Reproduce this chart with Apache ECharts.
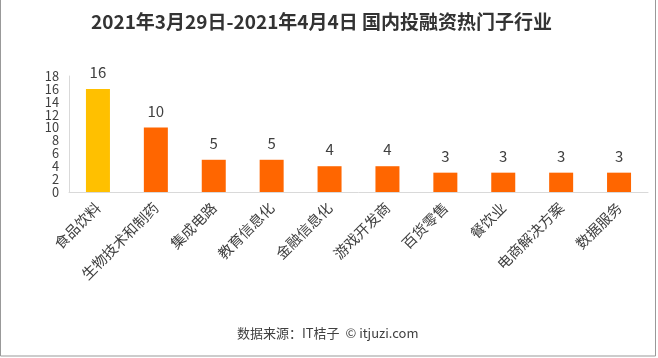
<!DOCTYPE html>
<html><head><meta charset="utf-8">
<script src="https://cdn.jsdelivr.net/npm/echarts@6/dist/echarts.min.js"></script>
<style>html,body{margin:0;padding:0;background:#fff}#c{width:658px;height:358px}</style>
</head><body><div id="c"></div>
<script>
const categories = ['食品饮料','生物技术和制药','集成电路','教育信息化','金融信息化','游戏开发商','百货零售','餐饮业','电商解决方案','数据服务'];
const values = [16,10,5,5,4,4,3,3,3,3];
const barColors = ['#FFC000','#FF6600','#FF6600','#FF6600','#FF6600','#FF6600','#FF6600','#FF6600','#FF6600','#FF6600'];
const titleText = '2021年3月29日-2021年4月4日 国内投融资热门子行业';
const footerText = '数据来源：IT桔子  © itjuzi.com';
const font = '"Noto Sans CJK SC","Microsoft YaHei",sans-serif';
const chart = echarts.init(document.getElementById('c'));
chart.setOption({
  animation:false,
  title:{text:titleText,left:86,top:7,textStyle:{fontFamily:font,fontSize:19,fontWeight:'bold',color:'#333'}},
  grid:{left:69,right:10,top:76,bottom:166,containLabel:false},
  xAxis:{type:'category',data:categories,
    axisLine:{lineStyle:{color:'#D9D9D9'}},axisTick:{show:false},
    axisLabel:{rotate:45,interval:0,fontFamily:font,fontSize:14.5,color:'#404040',margin:13}},
  yAxis:{type:'value',min:0,max:18,interval:2,
    axisLine:{show:true,lineStyle:{color:'#D9D9D9'}},axisTick:{show:false},splitLine:{show:false},
    axisLabel:{fontFamily:font,fontSize:12.8,color:'#404040',margin:10,lineHeight:12,
      showMinLabel:true,showMaxLabel:true}},
  series:[{type:'bar',barWidth:24,
    data:values.map((v,i)=>({value:v,itemStyle:{color:barColors[i]}})),
    label:{show:true,position:'top',distance:9,fontFamily:font,fontSize:15,color:'#404040'}}],
  graphic:[
    {type:'rect',shape:{x:0.5,y:-1,width:655,height:357},style:{fill:null,stroke:'#999',lineWidth:1},silent:true},
    {type:'text',left:237,top:327,style:{text:footerText,fontFamily:font,fontSize:13,fill:'#404040'}}
  ]
});
</script></body></html>
